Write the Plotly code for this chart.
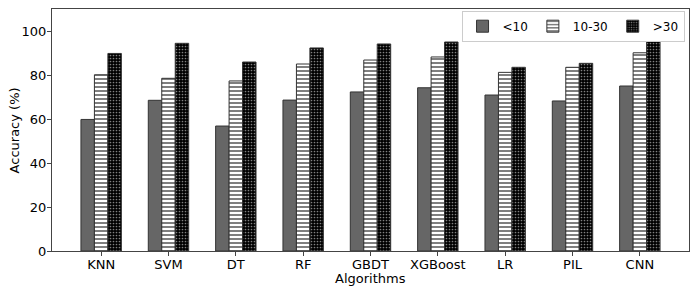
import plotly.graph_objects as go

algorithms = ["KNN", "SVM", "DT", "RF", "GBDT", "XGBoost", "LR", "PIL", "CNN"]
acc_lt10 = [59.8, 68.5, 56.8, 68.6, 72.3, 74.2, 70.9, 68.2, 75.0]
acc_10_30 = [80.1, 78.5, 77.3, 85.0, 86.8, 88.2, 81.2, 83.5, 90.1]
acc_gt30 = [89.8, 94.4, 85.9, 92.3, 94.1, 95.0, 83.5, 85.3, 95.3]
series_names = ["<10", "10-30", ">30"]
y_ticks = [0, 20, 40, 60, 80, 100]

font = "DejaVu Sans, sans-serif"
fig = go.Figure()
fig.add_trace(go.Bar(
    x=algorithms, y=acc_lt10, name=series_names[0],
    marker=dict(color="#666666", line=dict(color="#333333", width=1)),
))
fig.add_trace(go.Bar(
    x=algorithms, y=acc_10_30, name=series_names[1],
    marker=dict(color="white", line=dict(color="#333333", width=1),
                pattern=dict(shape="-", fgcolor="black", bgcolor="white",
                             size=4, solidity=0.5)),
))
fig.add_trace(go.Bar(
    x=algorithms, y=acc_gt30, name=series_names[2],
    marker=dict(color="black", line=dict(color="#333333", width=1),
                pattern=dict(shape=".", fgcolor="white", bgcolor="black",
                             size=3, solidity=0.25)),
))

fig.update_layout(
    width=698, height=293,
    margin=dict(l=52, r=9, t=9, b=42, autoexpand=False),
    paper_bgcolor="white", plot_bgcolor="white",
    barmode="group", bargap=0.4, bargroupgap=0,
    font=dict(family=font, size=13, color="black"),
    legend=dict(orientation="h", x=0.993, xanchor="right", y=0.993, yanchor="top",
                bgcolor="white", bordercolor="#cccccc", borderwidth=1,
                font=dict(size=12), tracegroupgap=0),
    showlegend=True,
    annotations=[
        dict(text="Algorithms", xref="paper", yref="paper", x=0.5, y=-0.075,
             xanchor="center", yanchor="top", showarrow=False, font=dict(size=13)),
        dict(text="Accuracy (%)", xref="paper", yref="paper", x=-0.059, y=0.5,
             xanchor="center", yanchor="middle", showarrow=False, textangle=-90,
             font=dict(size=13)),
    ],
)
fig.update_xaxes(
    range=[-0.73, 8.73], showline=True, linecolor="#444444", linewidth=1, mirror=True,
    ticks="outside", ticklen=4, tickcolor="#444444", automargin=False,
    tickfont=dict(size=13), ticklabelstandoff=-3,
)
fig.update_yaxes(
    range=[0, 110], tickvals=y_ticks, showline=True, linecolor="#444444", linewidth=1,
    mirror=True, ticks="outside", ticklen=4, tickcolor="#444444", showgrid=False,
    zeroline=False, automargin=False,
    tickfont=dict(size=13), ticklabelstandoff=-2,
)
fig.write_html("out.html", post_script="document.body.style.margin='0';",
               config={"displayModeBar": False})
